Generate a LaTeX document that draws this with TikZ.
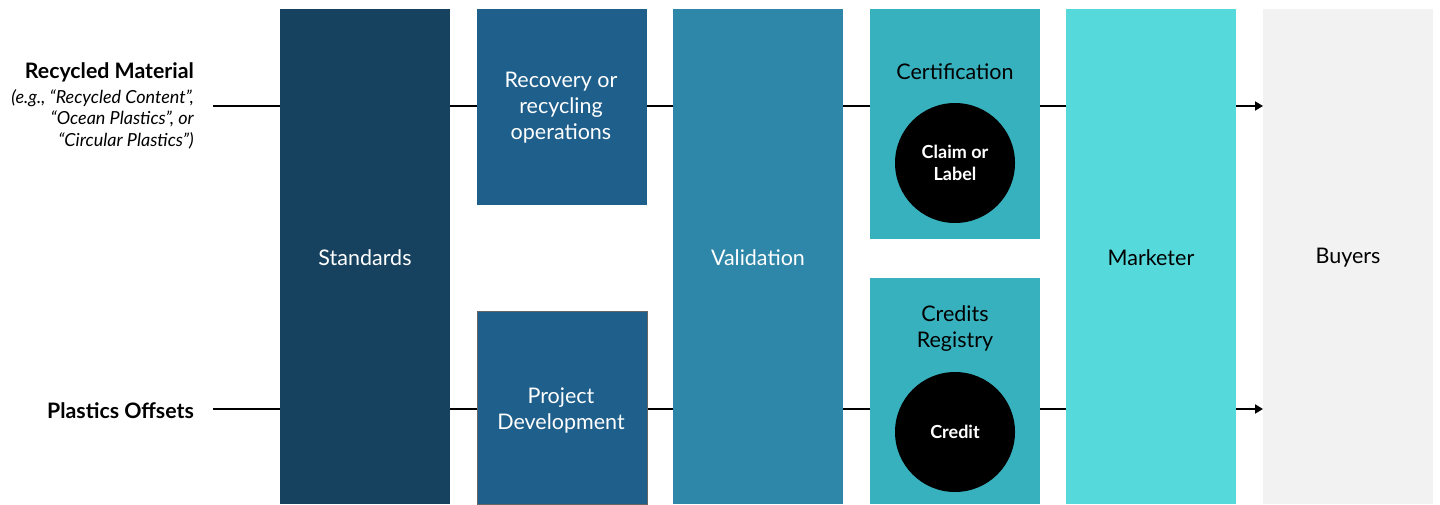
\documentclass[tikz,border=0pt]{standalone}
\usepackage{fontspec}
\setmainfont{Lato}
\usetikzlibrary{arrows.meta}
\definecolor{cStd}{HTML}{17425F}
\definecolor{cRec}{HTML}{1F5F8B}
\definecolor{cVal}{HTML}{2E86A8}
\definecolor{cCert}{HTML}{38B1BF}
\definecolor{cMkt}{HTML}{55D9DA}
\definecolor{cBuy}{HTML}{F2F2F2}
\begin{document}
\begin{tikzpicture}[x=1pt,y=-1pt,
  colbox/.style={anchor=north west,inner sep=0pt,minimum width=170pt},
  boxtext/.style={align=center,font=\fontsize{21.5}{26}\selectfont},
  badge/.style={circle,fill=black,minimum size=120pt,inner sep=0pt,align=center,text=white,font=\bfseries\fontsize{18}{22}\selectfont},
  flow/.style={line width=1.8pt,draw=black},
  lab/.style={anchor=east,align=right,inner sep=0pt}]
\useasboundingbox (0,0) rectangle (1440,504);
% connectors (behind boxes)
\coordinate (s1) at (213,106);
\coordinate (s2) at (213,409);
\coordinate (e1) at (1263,106);
\coordinate (e2) at (1263,409);
\draw[flow,-{Triangle[length=8pt,width=9pt]}] (s1) -- (e1);
\draw[flow,-{Triangle[length=8pt,width=9pt]}] (s2) -- (e2);
% boxes
\node[colbox,fill=cStd,minimum height=495pt] (std) at (280,9) {};
\node[boxtext,text=white] at (365,258) {Standards};
\node[colbox,fill=cRec,minimum height=196pt] (rec) at (477,9) {};
\node[boxtext,text=white] at (561,108) {Recovery or\\recycling\\operations};
\node[colbox,fill=cRec,draw=black!60,line width=0.8pt,minimum height=193pt] (proj) at (477,311) {};
\node[boxtext,text=white] at (561,410) {Project\\Development};
\node[colbox,fill=cVal,minimum height=495pt] (val) at (673,9) {};
\node[boxtext,text=white] at (758,258) {Validation};
\node[colbox,fill=cCert,minimum height=230pt] (cert) at (870,9) {};
\node[boxtext,text=black] at (955,72) {Certification};
\node[colbox,fill=cCert,minimum height=226pt] (reg) at (870,278) {};
\node[boxtext,text=black] at (955,329) {Credits\\Registry};
\node[colbox,fill=cMkt,minimum height=495pt] (mkt) at (1066,9) {};
\node[boxtext,text=black] at (1151,258) {Marketer};
\node[colbox,fill=cBuy,minimum height=495pt] (buy) at (1263,9) {};
\node[boxtext,text=black] at (1348,258) {Buyers};
% badges
\node[badge] (claim) at (955,163) {Claim or\\Label};
\node[badge] (credit) at (955,432) {Credit};
% left labels
\node[lab,font=\bfseries\fontsize{21.3}{24}\selectfont] (rm) at (194,72) {Recycled Material};
\node[lab,font=\itshape\fontsize{18}{21.5}\selectfont] (rmx) at (194,119) {(e.g., “Recycled Content”,\\“Ocean Plastics”, or\\“Circular Plastics”)};
\node[lab,font=\bfseries\fontsize{21.3}{24}\selectfont] (po) at (194,411) {Plastics Offsets};
\end{tikzpicture}
\end{document}
